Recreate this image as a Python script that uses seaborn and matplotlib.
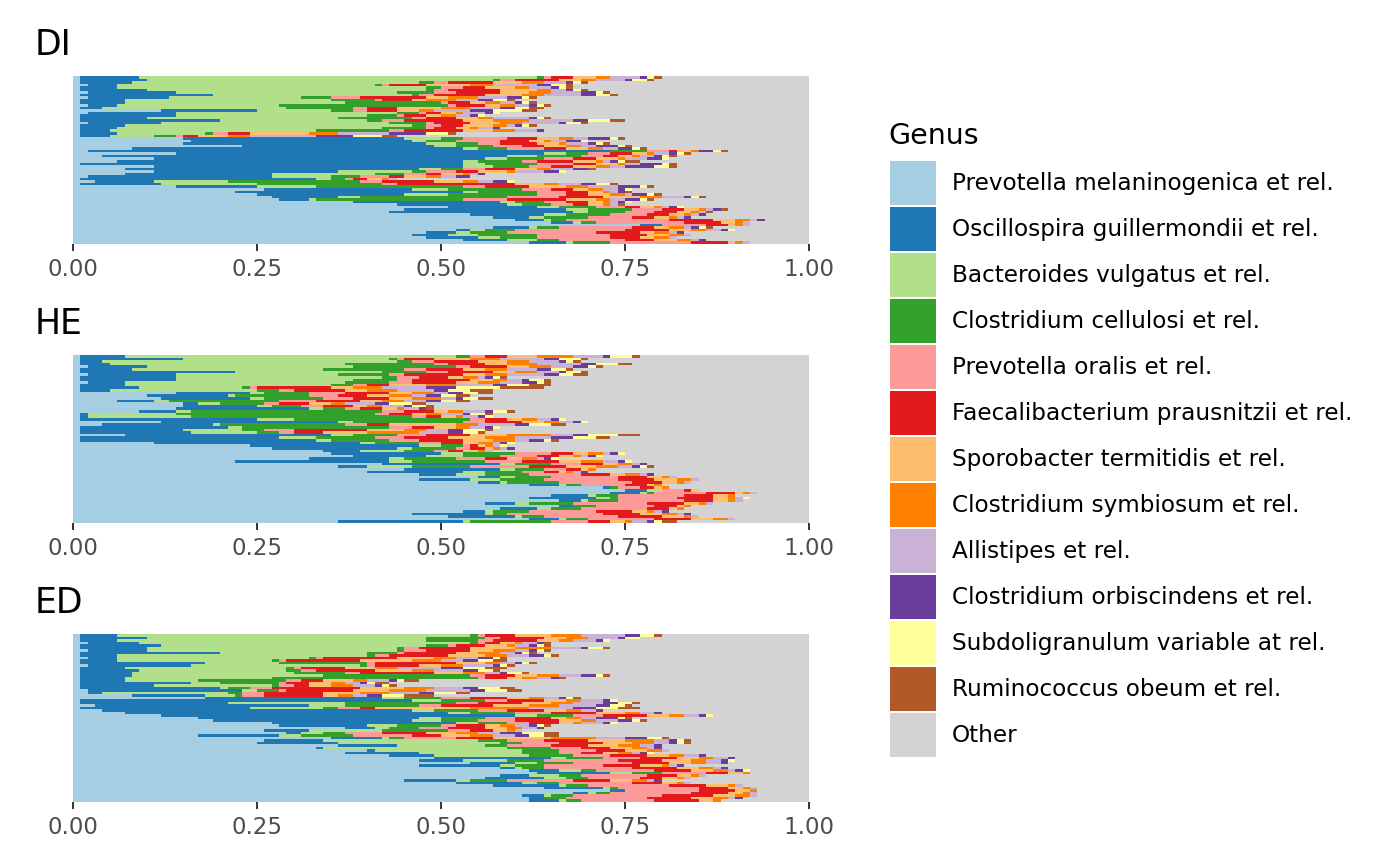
import numpy as np
import matplotlib
matplotlib.use("Agg")
import matplotlib.pyplot as plt
from matplotlib.patches import Patch
import seaborn as sns

genera = ["Prevotella melaninogenica et rel.", "Oscillospira guillermondii et rel.",
          "Bacteroides vulgatus et rel.", "Clostridium cellulosi et rel.",
          "Prevotella oralis et rel.", "Faecalibacterium prausnitzii et rel.",
          "Sporobacter termitidis et rel.", "Clostridium symbiosum et rel.",
          "Allistipes et rel.", "Clostridium orbiscindens et rel.",
          "Subdoligranulum variable at rel.", "Ruminococcus obeum et rel.", "Other"]

# relative abundance (%) per sample, top row first; columns follow genera[:12], Other is the rest
di_rows = [
    [1, 8, 54, 1, 1, 3, 3, 2, 4, 1, 1, 1], [1, 9, 47, 1, 2, 6, 3, 2, 4, 1, 2, 1],
    [1, 7, 39, 2, 2, 6, 4, 3, 3, 1, 1, 1], [2, 4, 35, 1, 1, 5, 6, 3, 6, 2, 2, 1],
    [1, 5, 42, 2, 3, 3, 4, 2, 3, 1, 1, 1], [1, 9, 38, 1, 2, 7, 5, 2, 2, 1, 1, 1],
    [2, 12, 30, 5, 3, 6, 4, 3, 4, 2, 1, 1], [1, 18, 27, 1, 2, 7, 5, 3, 5, 2, 2, 1],
    [2, 11, 18, 4, 4, 9, 3, 4, 4, 2, 1, 1], [1, 6, 28, 6, 1, 4, 2, 4, 3, 2, 2, 1],
    [1, 6, 30, 13, 1, 3, 2, 2, 2, 1, 1, 1], [2, 4, 22, 23, 1, 4, 2, 2, 2, 1, 1, 1],
    [1, 3, 25, 9, 2, 4, 6, 4, 4, 2, 2, 2], [12, 13, 10, 3, 2, 4, 3, 2, 5, 3, 4, 2],
    [2, 12, 30, 3, 1, 2, 2, 1, 3, 1, 1, 0], [1, 13, 26, 4, 1, 3, 2, 2, 2, 1, 1, 0],
    [1, 9, 26, 10, 2, 4, 3, 2, 5, 1, 1, 1], [1, 19, 20, 2, 3, 8, 4, 5, 6, 2, 3, 2],
    [2, 10, 31, 5, 1, 5, 4, 3, 5, 1, 2, 1], [1, 6, 39, 2, 2, 3, 4, 2, 1, 1, 1, 1],
    [1, 5, 36, 6, 1, 3, 2, 1, 2, 1, 0, 0], [1, 4, 28, 10, 2, 8, 4, 3, 3, 1, 0, 0],
    [1, 5, 12, 1, 2, 3, 8, 4, 7, 5, 3, 1], [1, 4, 6, 3, 1, 2, 4, 3, 9, 5, 4, 2],
    [15, 30, 5, 3, 6, 4, 3, 2, 2, 3, 1, 1], [16, 30, 2, 4, 6, 4, 2, 1, 2, 2, 1, 0],
    [15, 33, 4, 3, 3, 5, 3, 1, 3, 1, 1, 1], [23, 26, 3, 5, 4, 3, 3, 2, 2, 3, 1, 1],
    [8, 45, 2, 4, 5, 3, 3, 2, 2, 2, 1, 1], [2, 71, 0, 5, 3, 1, 2, 1, 0, 2, 1, 1],
    [14, 50, 3, 3, 3, 3, 2, 1, 2, 1, 1, 1], [4, 55, 4, 6, 3, 2, 2, 1, 2, 1, 1, 1],
    [11, 45, 3, 5, 4, 3, 3, 1, 3, 2, 1, 0], [6, 47, 2, 6, 2, 5, 3, 1, 1, 1, 1, 2],
    [1, 52, 3, 7, 5, 3, 3, 1, 2, 3, 1, 1], [11, 42, 4, 5, 3, 3, 3, 2, 2, 4, 2, 1],
    [7, 40, 3, 3, 3, 4, 3, 2, 3, 2, 0, 1], [11, 25, 10, 2, 4, 3, 4, 1, 4, 2, 1, 0],
    [7, 20, 14, 4, 3, 2, 3, 1, 1, 1, 0, 0], [2, 25, 8, 4, 4, 2, 3, 2, 2, 2, 0, 0],
    [1, 32, 2, 2, 1, 2, 2, 1, 1, 0, 0, 0], [3, 8, 10, 18, 3, 7, 4, 2, 2, 2, 1, 0],
    [1, 11, 13, 17, 2, 16, 4, 2, 3, 2, 2, 1], [14, 11, 8, 20, 3, 6, 5, 3, 4, 3, 1, 1],
    [26, 20, 5, 10, 4, 3, 2, 2, 2, 1, 1, 0], [22, 31, 2, 8, 4, 3, 2, 1, 1, 1, 0, 1],
    [25, 20, 6, 12, 4, 3, 3, 2, 1, 2, 1, 1], [27, 9, 3, 20, 7, 6, 5, 3, 3, 1, 1, 1],
    [28, 4, 1, 20, 6, 8, 4, 2, 2, 2, 1, 1], [38, 20, 2, 4, 3, 3, 2, 1, 1, 1, 1, 0],
    [44, 15, 2, 4, 3, 2, 2, 1, 1, 0, 0, 1], [51, 12, 3, 5, 4, 2, 2, 1, 1, 1, 1, 0],
    [45, 22, 3, 6, 4, 3, 2, 1, 1, 1, 0, 1], [43, 25, 2, 5, 4, 3, 2, 1, 1, 0, 0, 1],
    [54, 10, 3, 6, 5, 3, 2, 1, 1, 1, 0, 0], [57, 5, 2, 6, 6, 3, 2, 1, 1, 1, 0, 0],
    [60, 4, 1, 2, 14, 6, 3, 2, 1, 1, 0, 0], [65, 3, 1, 2, 12, 5, 2, 1, 1, 0, 0, 0],
    [77, 3, 0, 0, 6, 3, 1, 1, 1, 0, 0, 0], [57, 5, 1, 3, 10, 3, 2, 2, 1, 1, 1, 1],
    [52, 2, 2, 4, 15, 6, 3, 2, 2, 1, 1, 0], [48, 4, 2, 5, 12, 6, 2, 2, 1, 1, 0, 0],
    [46, 5, 4, 8, 10, 5, 3, 2, 1, 0, 0, 0], [48, 7, 3, 5, 10, 4, 2, 2, 1, 0, 0, 0],
    [53, 6, 4, 3, 9, 4, 3, 2, 1, 1, 0, 0], [62, 5, 1, 5, 11, 5, 1, 1, 1, 0, 0, 0],
]

he_rows = [
    [1, 6, 45, 2, 2, 3, 4, 5, 4, 1, 3, 1], [1, 14, 28, 1, 1, 4, 5, 4, 6, 2, 3, 1],
    [1, 3, 40, 2, 3, 6, 4, 3, 4, 1, 1, 1], [1, 4, 32, 12, 2, 5, 3, 4, 6, 2, 3, 2],
    [2, 8, 28, 14, 2, 5, 3, 3, 3, 2, 1, 1], [1, 7, 26, 11, 3, 5, 3, 3, 4, 2, 2, 1],
    [1, 21, 20, 6, 3, 6, 3, 3, 3, 1, 2, 1], [2, 12, 22, 7, 2, 8, 3, 3, 5, 2, 2, 2],
    [1, 13, 28, 2, 3, 4, 2, 2, 1, 1, 1, 1], [1, 13, 24, 6, 2, 8, 3, 2, 2, 1, 2, 1],
    [2, 5, 30, 6, 3, 6, 3, 3, 3, 2, 1, 1], [1, 6, 28, 3, 2, 3, 5, 4, 5, 2, 3, 3],
    [1, 8, 14, 1, 1, 10, 3, 4, 6, 4, 6, 6], [1, 4, 20, 3, 2, 7, 3, 4, 5, 2, 3, 3],
    [14, 10, 2, 6, 5, 6, 3, 3, 2, 2, 2, 2], [10, 11, 1, 10, 4, 4, 3, 3, 2, 2, 2, 2],
    [12, 12, 2, 8, 4, 5, 3, 4, 2, 1, 2, 2], [6, 5, 2, 15, 5, 6, 3, 3, 3, 2, 2, 2],
    [15, 2, 3, 6, 2, 4, 3, 2, 4, 2, 3, 2], [15, 10, 2, 4, 3, 4, 2, 2, 3, 1, 2, 1],
    [14, 18, 2, 3, 2, 3, 2, 1, 2, 1, 0, 1], [9, 5, 2, 26, 3, 4, 2, 2, 3, 1, 2, 1],
    [1, 1, 12, 27, 2, 3, 2, 2, 3, 1, 2, 1], [1, 1, 14, 30, 2, 2, 2, 1, 2, 1, 1, 0],
    [1, 24, 5, 24, 2, 3, 2, 2, 2, 1, 1, 0], [12, 24, 2, 15, 3, 5, 3, 2, 2, 1, 1, 0],
    [4, 15, 1, 17, 3, 3, 9, 3, 5, 2, 3, 2], [1, 20, 2, 20, 3, 3, 3, 2, 2, 1, 1, 0],
    [1, 14, 8, 3, 4, 10, 5, 3, 3, 2, 3, 1], [1, 15, 9, 3, 2, 4, 6, 7, 4, 2, 2, 1],
    [7, 28, 3, 6, 4, 6, 5, 6, 3, 2, 4, 3], [1, 27, 5, 8, 4, 6, 5, 4, 5, 3, 3, 2],
    [1, 32, 2, 8, 4, 6, 4, 3, 2, 2, 1, 1], [11, 28, 2, 6, 3, 3, 2, 2, 1, 1, 1, 0],
    [24, 23, 3, 3, 1, 1, 1, 1, 1, 0, 1, 0], [27, 17, 2, 6, 2, 2, 1, 1, 1, 1, 0, 0],
    [34, 5, 6, 4, 2, 2, 2, 1, 1, 0, 0, 0], [35, 15, 3, 7, 5, 3, 2, 2, 1, 1, 1, 0],
    [38, 10, 5, 5, 5, 3, 2, 1, 1, 1, 1, 0], [32, 11, 2, 7, 4, 3, 2, 2, 1, 1, 1, 0],
    [22, 21, 3, 10, 5, 5, 3, 3, 2, 1, 1, 0], [42, 16, 2, 5, 4, 3, 2, 2, 1, 1, 0, 0],
    [36, 4, 6, 8, 8, 5, 4, 3, 2, 1, 1, 1], [45, 13, 2, 4, 3, 2, 1, 1, 0, 0, 0, 0],
    [40, 13, 3, 5, 3, 2, 1, 1, 1, 1, 0, 0], [47, 5, 4, 6, 7, 4, 2, 2, 1, 1, 0, 0],
    [55, 3, 2, 5, 9, 4, 2, 1, 1, 0, 0, 0], [47, 7, 4, 6, 10, 5, 3, 2, 1, 0, 0, 0],
    [55, 3, 1, 7, 10, 4, 2, 1, 1, 0, 0, 0], [62, 4, 1, 2, 6, 3, 1, 1, 0, 0, 0, 0],
    [72, 1, 0, 1, 3, 2, 1, 1, 0, 0, 0, 0], [75, 3, 2, 0, 3, 1, 1, 0, 0, 0, 0, 0],
    [73, 4, 1, 1, 7, 4, 1, 1, 1, 0, 0, 0], [65, 5, 1, 3, 9, 4, 2, 1, 0, 0, 0, 0],
    [62, 9, 2, 1, 8, 5, 2, 1, 1, 0, 1, 0], [66, 3, 1, 4, 9, 4, 2, 1, 1, 0, 0, 0],
    [56, 4, 2, 6, 10, 5, 2, 1, 1, 0, 0, 0], [66, 2, 0, 3, 8, 3, 1, 1, 0, 0, 0, 0],
    [58, 5, 2, 4, 9, 3, 1, 1, 0, 0, 0, 0], [53, 3, 1, 5, 9, 5, 2, 1, 1, 1, 0, 0],
    [46, 10, 1, 2, 13, 5, 3, 2, 1, 1, 0, 0], [51, 9, 1, 3, 10, 6, 3, 1, 1, 0, 0, 0],
    [62, 4, 1, 3, 9, 5, 3, 2, 1, 0, 0, 0], [36, 17, 1, 11, 5, 3, 2, 1, 2, 1, 1, 2],
]

ed_rows = [
    [1, 5, 48, 1, 1, 4, 5, 4, 6, 2, 2, 1], [1, 9, 38, 8, 2, 6, 3, 3, 4, 1, 2, 0],
    [1, 5, 42, 7, 2, 6, 3, 2, 3, 1, 1, 0], [2, 7, 45, 1, 1, 2, 2, 1, 2, 1, 0, 1],
    [1, 11, 36, 3, 1, 4, 3, 1, 2, 1, 1, 1], [1, 9, 34, 1, 2, 7, 6, 5, 4, 1, 2, 1],
    [2, 8, 34, 1, 3, 6, 3, 3, 2, 1, 1, 1], [1, 19, 20, 4, 1, 7, 3, 3, 2, 1, 1, 1],
    [1, 5, 34, 1, 2, 8, 5, 3, 3, 2, 1, 1], [2, 4, 26, 1, 1, 10, 5, 3, 3, 2, 1, 1],
    [1, 5, 21, 1, 1, 10, 7, 4, 3, 2, 2, 2], [1, 17, 10, 12, 1, 11, 4, 2, 2, 1, 1, 1],
    [2, 14, 23, 1, 1, 6, 3, 3, 4, 1, 1, 1], [1, 6, 22, 1, 1, 6, 4, 3, 6, 3, 3, 3],
    [1, 8, 20, 2, 2, 8, 5, 3, 4, 2, 2, 1], [1, 7, 22, 7, 2, 10, 4, 3, 2, 1, 2, 1],
    [1, 7, 26, 20, 2, 4, 3, 3, 3, 2, 1, 1], [1, 6, 20, 28, 1, 3, 2, 2, 2, 1, 0, 1],
    [1, 6, 10, 12, 2, 3, 4, 2, 3, 1, 1, 2], [1, 15, 4, 8, 1, 3, 3, 2, 2, 1, 1, 2],
    [1, 10, 16, 1, 2, 2, 3, 3, 3, 1, 1, 1], [1, 19, 1, 3, 3, 12, 6, 4, 4, 2, 3, 2],
    [2, 21, 2, 3, 1, 9, 5, 5, 6, 2, 3, 2], [2, 2, 17, 2, 3, 8, 5, 4, 4, 2, 3, 2],
    [8, 10, 4, 1, 3, 8, 2, 2, 2, 2, 3, 4], [18, 24, 3, 5, 4, 5, 3, 2, 2, 1, 1, 1],
    [1, 45, 4, 6, 3, 5, 3, 2, 3, 1, 1, 0], [1, 20, 16, 15, 3, 6, 4, 3, 4, 2, 2, 1],
    [3, 29, 5, 10, 3, 7, 5, 4, 5, 2, 2, 1], [1, 23, 10, 2, 3, 2, 13, 8, 6, 3, 3, 3],
    [4, 42, 3, 6, 4, 5, 3, 2, 2, 1, 0, 0], [7, 44, 3, 6, 5, 6, 4, 2, 2, 1, 0, 0],
    [12, 48, 3, 5, 4, 6, 3, 2, 2, 1, 1, 0], [17, 30, 3, 6, 4, 5, 2, 2, 2, 3, 1, 1],
    [19, 27, 4, 5, 5, 6, 3, 2, 3, 2, 1, 1], [27, 25, 3, 4, 3, 4, 2, 1, 3, 1, 1, 0],
    [28, 12, 4, 6, 2, 4, 2, 2, 2, 1, 1, 1], [37, 4, 2, 4, 4, 5, 3, 2, 2, 1, 0, 0],
    [26, 6, 10, 9, 3, 3, 2, 1, 1, 0, 0, 0], [29, 2, 3, 3, 5, 6, 4, 3, 3, 3, 3, 2],
    [17, 11, 3, 7, 8, 4, 4, 3, 3, 2, 2, 2], [35, 7, 1, 2, 7, 5, 8, 6, 4, 3, 2, 1],
    [26, 8, 21, 4, 5, 6, 5, 4, 2, 1, 1, 1], [25, 11, 22, 3, 5, 6, 4, 3, 2, 1, 1, 1],
    [36, 8, 12, 3, 6, 5, 4, 3, 2, 1, 0, 0], [33, 1, 25, 6, 4, 4, 3, 2, 1, 1, 0, 0],
    [40, 1, 20, 5, 5, 4, 3, 2, 1, 0, 0, 0], [37, 10, 14, 5, 3, 3, 2, 2, 1, 1, 1, 0],
    [43, 6, 13, 6, 5, 5, 3, 2, 2, 1, 0, 0], [49, 16, 2, 5, 5, 5, 3, 2, 2, 1, 0, 0],
    [47, 6, 6, 5, 10, 6, 4, 2, 2, 1, 1, 0], [54, 6, 3, 5, 8, 5, 3, 2, 2, 1, 0, 0],
    [47, 11, 2, 4, 8, 5, 3, 1, 1, 1, 0, 0], [58, 2, 1, 3, 12, 6, 3, 2, 1, 1, 0, 0],
    [62, 4, 3, 2, 8, 5, 3, 2, 1, 1, 1, 0], [63, 10, 3, 4, 6, 3, 2, 1, 0, 0, 0, 0],
    [58, 4, 4, 3, 9, 4, 2, 1, 1, 0, 0, 0], [56, 8, 3, 3, 7, 3, 2, 1, 1, 0, 0, 0],
    [45, 7, 2, 5, 9, 5, 3, 2, 1, 1, 0, 0], [52, 9, 2, 3, 10, 4, 2, 1, 1, 0, 0, 0],
    [57, 9, 1, 3, 11, 5, 3, 1, 1, 0, 0, 0], [64, 8, 1, 1, 11, 4, 2, 1, 1, 0, 0, 0],
    [73, 2, 0, 0, 10, 5, 2, 1, 0, 0, 0, 0], [68, 2, 1, 2, 11, 5, 2, 1, 1, 0, 0, 0],
    [61, 3, 1, 3, 12, 7, 3, 2, 1, 0, 0, 0], [62, 2, 0, 3, 11, 6, 3, 2, 1, 1, 0, 0],
    [62, 4, 1, 2, 10, 6, 2, 1, 0, 0, 0, 0],
]

panels = ["DI", "HE", "ED"]
panel_rows = [di_rows, he_rows, ed_rows]
x_ticks = [0, 0.25, 0.5, 0.75, 1.0]
x_tick_labels = ["0.00", "0.25", "0.50", "0.75", "1.00"]

sns.set_style("white")
plt.rcParams['font.family'] = ['DejaVu Sans']
plt.rcParams['text.color'] = 'black'
colors = sns.color_palette("Paired", 12) + ["#D3D3D3"]

fig = plt.figure(figsize=(14, 8.66), dpi=100)
W, H = 1400, 866
panel_tops = [76, 355, 634]

for name, rows, top in zip(panels, panel_rows, panel_tops):
    ax = fig.add_axes([73 / W, 1 - (top + 168) / H, 736 / W, 168 / H])
    vals = np.array(rows, dtype=float)
    vals = np.column_stack([vals, 100 - vals.sum(axis=1)])
    cum = vals.cumsum(axis=1) / 100
    samples = [f"{name}_{i:02d}" for i in range(len(rows))]
    # stacked bars: draw longest cumulative first, shorter ones on top
    for k in range(len(genera) - 1, -1, -1):
        sns.barplot(x=cum[:, k], y=samples, orient="h", color=colors[k],
                    saturation=1, width=1, errorbar=None, linewidth=0,
                    antialiased=False, ax=ax)
    ax.set_xlim(0, 1)
    ax.set_xticks(x_ticks)
    ax.set_xticklabels(x_tick_labels)
    ax.set_xlabel("")
    ax.set_ylabel("")
    for s in ax.spines.values():
        s.set_visible(False)
    ax.tick_params(axis="x", bottom=True, length=5, width=1.4, color="#333333",
                   labelsize=16.5, labelcolor="#4D4D4D", pad=5)
    ax.tick_params(axis="y", left=False, labelleft=False)
    fig.text(35 / W, 1 - (top - 21) / H, name, fontsize=25, color="black",
             ha="left", va="baseline")

fig.text(888.5 / W, 1 - 143.5 / H, "Genus", fontsize=20.5, color="black",
         ha="left", va="baseline")
handles = [Patch(facecolor=c, edgecolor="none") for c in colors]
leg = fig.legend(handles, genera, loc="upper left", bbox_to_anchor=(890 / W, 1 - 161 / H),
                 frameon=False, fontsize=16.7, handlelength=1.98, handleheight=2.574,
                 labelspacing=0.065, handletextpad=0.7, borderpad=0, borderaxespad=0)
for t in leg.get_texts():
    t.set_color("black")

fig.savefig("out.png", dpi=100)
